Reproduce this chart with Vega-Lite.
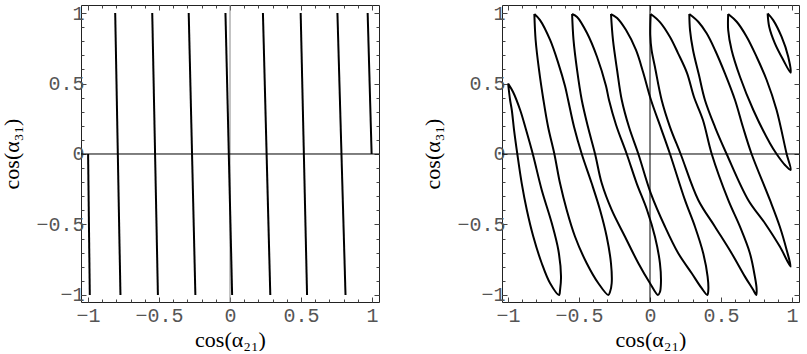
{
  "$schema": "https://vega.github.io/schema/vega-lite/v6.json",
  "padding": {"left": 0, "top": 2, "right": 0, "bottom": 0},
  "bounds": "flush",
  "spacing": 123,
  "config": {
    "view": {"stroke": "#222", "strokeWidth": 1},
    "axis": {"grid": false, "domain": false, "tickColor": "#444", "tickWidth": 1, "labelFont": "Liberation Mono", "labelFontSize": 20, "labelColor": "#555", "labelFlush": false, "labelOverlap": false, "titleFont": "Liberation Serif", "titleFontSize": 22, "titleFontWeight": "normal", "titleColor": "#000"}
  },
  "datasets": {
    "zero": [{"v": 0}],
    "left": [
      {"line": "a", "i": 0, "cx": -1.0, "cy": 0}, {"line": "a", "i": 1, "cx": -0.988, "cy": -1},
      {"line": "b", "i": 0, "cx": -0.809, "cy": 1}, {"line": "b", "i": 1, "cx": -0.772, "cy": -1},
      {"line": "c", "i": 0, "cx": -0.548, "cy": 1}, {"line": "c", "i": 1, "cx": -0.508, "cy": -1},
      {"line": "d", "i": 0, "cx": -0.291, "cy": 1}, {"line": "d", "i": 1, "cx": -0.244, "cy": -1},
      {"line": "e", "i": 0, "cx": -0.032, "cy": 1}, {"line": "e", "i": 1, "cx": 0.015, "cy": -1},
      {"line": "f", "i": 0, "cx": 0.232, "cy": 1}, {"line": "f", "i": 1, "cx": 0.284, "cy": -1},
      {"line": "g", "i": 0, "cx": 0.498, "cy": 1}, {"line": "g", "i": 1, "cx": 0.543, "cy": -1},
      {"line": "h", "i": 0, "cx": 0.757, "cy": 1}, {"line": "h", "i": 1, "cx": 0.814, "cy": -1},
      {"line": "i", "i": 0, "cx": 0.970, "cy": 1}, {"line": "i", "i": 1, "cx": 0.998, "cy": 0}
    ],
    "right": [
      {"loop": 1, "i": 0, "cx": -1.0, "cy": 0.5}, {"loop": 1, "i": 1, "cx": -0.986, "cy": 0.383}, {"loop": 1, "i": 2, "cx": -0.974, "cy": 0.312}, {"loop": 1, "i": 3, "cx": -0.958, "cy": 0.17}, {"loop": 1, "i": 4, "cx": -0.935, "cy": 0}, {"loop": 1, "i": 5, "cx": -0.904, "cy": -0.208}, {"loop": 1, "i": 6, "cx": -0.868, "cy": -0.397}, {"loop": 1, "i": 7, "cx": -0.822, "cy": -0.587}, {"loop": 1, "i": 8, "cx": -0.763, "cy": -0.775}, {"loop": 1, "i": 9, "cx": -0.704, "cy": -0.917}, {"loop": 1, "i": 10, "cx": -0.641, "cy": -1.0}, {"loop": 1, "i": 11, "cx": -0.634, "cy": -0.965}, {"loop": 1, "i": 12, "cx": -0.627, "cy": -0.87}, {"loop": 1, "i": 13, "cx": -0.646, "cy": -0.681}, {"loop": 1, "i": 14, "cx": -0.692, "cy": -0.491}, {"loop": 1, "i": 15, "cx": -0.763, "cy": -0.255}, {"loop": 1, "i": 16, "cx": -0.826, "cy": 0}, {"loop": 1, "i": 17, "cx": -0.873, "cy": 0.17}, {"loop": 1, "i": 18, "cx": -0.915, "cy": 0.312}, {"loop": 1, "i": 19, "cx": -0.965, "cy": 0.44}, {"loop": 1, "i": 20, "cx": -1.0, "cy": 0.5},
      {"loop": 2, "i": 0, "cx": -0.815, "cy": 0.993}, {"loop": 2, "i": 1, "cx": -0.806, "cy": 0.809}, {"loop": 2, "i": 2, "cx": -0.782, "cy": 0.596}, {"loop": 2, "i": 3, "cx": -0.751, "cy": 0.383}, {"loop": 2, "i": 4, "cx": -0.718, "cy": 0.191}, {"loop": 2, "i": 5, "cx": -0.674, "cy": 0}, {"loop": 2, "i": 6, "cx": -0.634, "cy": -0.208}, {"loop": 2, "i": 7, "cx": -0.587, "cy": -0.397}, {"loop": 2, "i": 8, "cx": -0.528, "cy": -0.587}, {"loop": 2, "i": 9, "cx": -0.446, "cy": -0.775}, {"loop": 2, "i": 10, "cx": -0.364, "cy": -0.917}, {"loop": 2, "i": 11, "cx": -0.294, "cy": -1.0}, {"loop": 2, "i": 12, "cx": -0.282, "cy": -0.979}, {"loop": 2, "i": 13, "cx": -0.27, "cy": -0.917}, {"loop": 2, "i": 14, "cx": -0.275, "cy": -0.775}, {"loop": 2, "i": 15, "cx": -0.305, "cy": -0.587}, {"loop": 2, "i": 16, "cx": -0.352, "cy": -0.397}, {"loop": 2, "i": 17, "cx": -0.411, "cy": -0.208}, {"loop": 2, "i": 18, "cx": -0.481, "cy": 0}, {"loop": 2, "i": 19, "cx": -0.535, "cy": 0.191}, {"loop": 2, "i": 20, "cx": -0.577, "cy": 0.383}, {"loop": 2, "i": 21, "cx": -0.599, "cy": 0.482}, {"loop": 2, "i": 22, "cx": -0.646, "cy": 0.643}, {"loop": 2, "i": 23, "cx": -0.704, "cy": 0.809}, {"loop": 2, "i": 24, "cx": -0.775, "cy": 0.95}, {"loop": 2, "i": 25, "cx": -0.815, "cy": 0.993},
      {"loop": 3, "i": 0, "cx": -0.549, "cy": 0.993}, {"loop": 3, "i": 1, "cx": -0.539, "cy": 0.809}, {"loop": 3, "i": 2, "cx": -0.514, "cy": 0.596}, {"loop": 3, "i": 3, "cx": -0.481, "cy": 0.383}, {"loop": 3, "i": 4, "cx": -0.437, "cy": 0.191}, {"loop": 3, "i": 5, "cx": -0.387, "cy": 0}, {"loop": 3, "i": 6, "cx": -0.34, "cy": -0.208}, {"loop": 3, "i": 7, "cx": -0.27, "cy": -0.397}, {"loop": 3, "i": 8, "cx": -0.176, "cy": -0.587}, {"loop": 3, "i": 9, "cx": -0.082, "cy": -0.775}, {"loop": 3, "i": 10, "cx": 0.0, "cy": -0.917}, {"loop": 3, "i": 11, "cx": 0.056, "cy": -1.0}, {"loop": 3, "i": 12, "cx": 0.07, "cy": -0.979}, {"loop": 3, "i": 13, "cx": 0.077, "cy": -0.917}, {"loop": 3, "i": 14, "cx": 0.07, "cy": -0.775}, {"loop": 3, "i": 15, "cx": 0.035, "cy": -0.587}, {"loop": 3, "i": 16, "cx": -0.021, "cy": -0.397}, {"loop": 3, "i": 17, "cx": -0.094, "cy": -0.208}, {"loop": 3, "i": 18, "cx": -0.164, "cy": 0}, {"loop": 3, "i": 19, "cx": -0.239, "cy": 0.206}, {"loop": 3, "i": 20, "cx": -0.289, "cy": 0.383}, {"loop": 3, "i": 21, "cx": -0.31, "cy": 0.482}, {"loop": 3, "i": 22, "cx": -0.373, "cy": 0.688}, {"loop": 3, "i": 23, "cx": -0.444, "cy": 0.858}, {"loop": 3, "i": 24, "cx": -0.514, "cy": 0.972}, {"loop": 3, "i": 25, "cx": -0.549, "cy": 0.993},
      {"loop": 4, "i": 0, "cx": -0.275, "cy": 0.993}, {"loop": 4, "i": 1, "cx": -0.261, "cy": 0.809}, {"loop": 4, "i": 2, "cx": -0.232, "cy": 0.596}, {"loop": 4, "i": 3, "cx": -0.199, "cy": 0.383}, {"loop": 4, "i": 4, "cx": -0.148, "cy": 0.191}, {"loop": 4, "i": 5, "cx": -0.082, "cy": 0}, {"loop": 4, "i": 6, "cx": 0.005, "cy": -0.277}, {"loop": 4, "i": 7, "cx": 0.106, "cy": -0.516}, {"loop": 4, "i": 8, "cx": 0.199, "cy": -0.704}, {"loop": 4, "i": 9, "cx": 0.294, "cy": -0.846}, {"loop": 4, "i": 10, "cx": 0.364, "cy": -0.952}, {"loop": 4, "i": 11, "cx": 0.404, "cy": -1.0}, {"loop": 4, "i": 12, "cx": 0.411, "cy": -0.965}, {"loop": 4, "i": 13, "cx": 0.406, "cy": -0.87}, {"loop": 4, "i": 14, "cx": 0.375, "cy": -0.704}, {"loop": 4, "i": 15, "cx": 0.317, "cy": -0.516}, {"loop": 4, "i": 16, "cx": 0.246, "cy": -0.326}, {"loop": 4, "i": 17, "cx": 0.141, "cy": 0}, {"loop": 4, "i": 18, "cx": 0.077, "cy": 0.184}, {"loop": 4, "i": 19, "cx": 0.007, "cy": 0.383}, {"loop": 4, "i": 20, "cx": -0.049, "cy": 0.582}, {"loop": 4, "i": 21, "cx": -0.099, "cy": 0.738}, {"loop": 4, "i": 22, "cx": -0.169, "cy": 0.879}, {"loop": 4, "i": 23, "cx": -0.232, "cy": 0.965}, {"loop": 4, "i": 24, "cx": -0.275, "cy": 0.993},
      {"loop": 5, "i": 0, "cx": 0.005, "cy": 0.993}, {"loop": 5, "i": 1, "cx": 0.002, "cy": 0.844}, {"loop": 5, "i": 2, "cx": 0.011, "cy": 0.738}, {"loop": 5, "i": 3, "cx": 0.035, "cy": 0.617}, {"loop": 5, "i": 4, "cx": 0.082, "cy": 0.383}, {"loop": 5, "i": 5, "cx": 0.141, "cy": 0.191}, {"loop": 5, "i": 6, "cx": 0.216, "cy": 0}, {"loop": 5, "i": 7, "cx": 0.34, "cy": -0.326}, {"loop": 5, "i": 8, "cx": 0.458, "cy": -0.516}, {"loop": 5, "i": 9, "cx": 0.575, "cy": -0.704}, {"loop": 5, "i": 10, "cx": 0.669, "cy": -0.87}, {"loop": 5, "i": 11, "cx": 0.728, "cy": -0.965}, {"loop": 5, "i": 12, "cx": 0.749, "cy": -1.0}, {"loop": 5, "i": 13, "cx": 0.751, "cy": -0.952}, {"loop": 5, "i": 14, "cx": 0.739, "cy": -0.87}, {"loop": 5, "i": 15, "cx": 0.704, "cy": -0.704}, {"loop": 5, "i": 16, "cx": 0.634, "cy": -0.516}, {"loop": 5, "i": 17, "cx": 0.551, "cy": -0.326}, {"loop": 5, "i": 18, "cx": 0.435, "cy": 0}, {"loop": 5, "i": 19, "cx": 0.373, "cy": 0.241}, {"loop": 5, "i": 20, "cx": 0.31, "cy": 0.404}, {"loop": 5, "i": 21, "cx": 0.261, "cy": 0.574}, {"loop": 5, "i": 22, "cx": 0.197, "cy": 0.716}, {"loop": 5, "i": 23, "cx": 0.141, "cy": 0.83}, {"loop": 5, "i": 24, "cx": 0.07, "cy": 0.936}, {"loop": 5, "i": 25, "cx": 0.005, "cy": 0.993},
      {"loop": 6, "i": 0, "cx": 0.277, "cy": 0.993}, {"loop": 6, "i": 1, "cx": 0.282, "cy": 0.879}, {"loop": 6, "i": 2, "cx": 0.303, "cy": 0.738}, {"loop": 6, "i": 3, "cx": 0.345, "cy": 0.56}, {"loop": 6, "i": 4, "cx": 0.387, "cy": 0.383}, {"loop": 6, "i": 5, "cx": 0.458, "cy": 0.191}, {"loop": 6, "i": 6, "cx": 0.54, "cy": 0}, {"loop": 6, "i": 7, "cx": 0.692, "cy": -0.326}, {"loop": 6, "i": 8, "cx": 0.81, "cy": -0.491}, {"loop": 6, "i": 9, "cx": 0.915, "cy": -0.657}, {"loop": 6, "i": 10, "cx": 0.991, "cy": -0.799}, {"loop": 6, "i": 11, "cx": 0.963, "cy": -0.681}, {"loop": 6, "i": 12, "cx": 0.915, "cy": -0.516}, {"loop": 6, "i": 13, "cx": 0.845, "cy": -0.326}, {"loop": 6, "i": 14, "cx": 0.716, "cy": 0}, {"loop": 6, "i": 15, "cx": 0.655, "cy": 0.191}, {"loop": 6, "i": 16, "cx": 0.599, "cy": 0.383}, {"loop": 6, "i": 17, "cx": 0.528, "cy": 0.572}, {"loop": 6, "i": 18, "cx": 0.458, "cy": 0.738}, {"loop": 6, "i": 19, "cx": 0.399, "cy": 0.856}, {"loop": 6, "i": 20, "cx": 0.34, "cy": 0.938}, {"loop": 6, "i": 21, "cx": 0.277, "cy": 0.993},
      {"loop": 7, "i": 0, "cx": 0.551, "cy": 0.993}, {"loop": 7, "i": 1, "cx": 0.551, "cy": 0.879}, {"loop": 7, "i": 2, "cx": 0.575, "cy": 0.738}, {"loop": 7, "i": 3, "cx": 0.634, "cy": 0.548}, {"loop": 7, "i": 4, "cx": 0.728, "cy": 0.312}, {"loop": 7, "i": 5, "cx": 0.845, "cy": 0.076}, {"loop": 7, "i": 6, "cx": 0.892, "cy": 0}, {"loop": 7, "i": 7, "cx": 0.951, "cy": -0.078}, {"loop": 7, "i": 8, "cx": 0.991, "cy": -0.113}, {"loop": 7, "i": 9, "cx": 0.963, "cy": 0}, {"loop": 7, "i": 10, "cx": 0.892, "cy": 0.312}, {"loop": 7, "i": 11, "cx": 0.822, "cy": 0.525}, {"loop": 7, "i": 12, "cx": 0.751, "cy": 0.69}, {"loop": 7, "i": 13, "cx": 0.681, "cy": 0.832}, {"loop": 7, "i": 14, "cx": 0.611, "cy": 0.938}, {"loop": 7, "i": 15, "cx": 0.551, "cy": 0.993},
      {"loop": 8, "i": 0, "cx": 0.829, "cy": 0.998}, {"loop": 8, "i": 1, "cx": 0.84, "cy": 0.903}, {"loop": 8, "i": 2, "cx": 0.88, "cy": 0.785}, {"loop": 8, "i": 3, "cx": 0.939, "cy": 0.667}, {"loop": 8, "i": 4, "cx": 0.991, "cy": 0.577}, {"loop": 8, "i": 5, "cx": 0.974, "cy": 0.69}, {"loop": 8, "i": 6, "cx": 0.927, "cy": 0.832}, {"loop": 8, "i": 7, "cx": 0.868, "cy": 0.95}, {"loop": 8, "i": 8, "cx": 0.829, "cy": 0.998}
    ]
  },
  "hconcat": [
    {
      "width": 298, "height": 297,
      "resolve": {"axis": {"x": "independent", "y": "independent"}},
      "layer": [
        {"data": {"name": "zero"}, "mark": {"type": "rule", "stroke": "#888", "strokeWidth": 1},
         "encoding": {
           "x": {"field": "v", "type": "quantitative", "scale": {"domain": [-1.05, 1.05], "nice": false, "zero": false},
             "axis": {"orient": "top", "values": [-1, -0.5, 0, 0.5, 1], "tickSize": -5, "labels": false, "title": null}},
           "y": {"datum": -1.05, "type": "quantitative", "scale": {"domain": [-1.05, 1.057], "nice": false, "zero": false},
             "axis": {"orient": "right", "values": [-1, -0.5, 0, 0.5, 1], "tickSize": -5, "labels": false, "title": null}},
           "y2": {"datum": 1.057}}},
        {"data": {"name": "zero"}, "mark": {"type": "rule", "stroke": "#000", "strokeWidth": 1},
         "encoding": {
           "y": {"field": "v", "type": "quantitative", "scale": {"domain": [-1.05, 1.057], "nice": false, "zero": false},
             "axis": {"orient": "left", "values": [-1, -0.9, -0.8, -0.7, -0.6, -0.5, -0.4, -0.3, -0.2, -0.1, 0, 0.1, 0.2, 0.3, 0.4, 0.5, 0.6, 0.7, 0.8, 0.9, 1], "tickSize": -3, "labels": false, "title": null}},
           "x": {"datum": -1.05, "type": "quantitative", "scale": {"domain": [-1.05, 1.05], "nice": false, "zero": false},
             "axis": {"orient": "bottom", "values": [-1, -0.9, -0.8, -0.7, -0.6, -0.5, -0.4, -0.3, -0.2, -0.1, 0, 0.1, 0.2, 0.3, 0.4, 0.5, 0.6, 0.7, 0.8, 0.9, 1], "tickSize": -3, "labels": false, "title": null}},
           "x2": {"datum": 1.05}}},
        {"data": {"name": "zero"}, "mark": {"type": "rule", "strokeOpacity": 0},
         "encoding": {
           "x": {"field": "v", "type": "quantitative", "scale": {"domain": [-1.05, 1.05], "nice": false, "zero": false},
             "axis": {"orient": "top", "values": [-1, -0.9, -0.8, -0.7, -0.6, -0.5, -0.4, -0.3, -0.2, -0.1, 0, 0.1, 0.2, 0.3, 0.4, 0.5, 0.6, 0.7, 0.8, 0.9, 1], "tickSize": -3, "labels": false, "title": null}},
           "y": {"datum": -1.05, "type": "quantitative", "scale": {"domain": [-1.05, 1.057], "nice": false, "zero": false},
             "axis": {"orient": "right", "values": [-1, -0.9, -0.8, -0.7, -0.6, -0.5, -0.4, -0.3, -0.2, -0.1, 0, 0.1, 0.2, 0.3, 0.4, 0.5, 0.6, 0.7, 0.8, 0.9, 1], "tickSize": -3, "labels": false, "title": null}},
           "y2": {"datum": 1.057}}},
        {"data": {"name": "left"}, "mark": {"type": "line", "stroke": "#000", "strokeWidth": 2, "strokeJoin": "round"},
         "encoding": {
           "x": {"field": "cx", "type": "quantitative", "scale": {"domain": [-1.05, 1.05], "nice": false, "zero": false},
             "axis": {"orient": "bottom", "values": [-1, -0.5, 0, 0.5, 1], "format": "~g", "tickSize": -5, "labelPadding": 8, "title": "cos(α₂₁)", "titlePadding": 4}},
           "y": {"field": "cy", "type": "quantitative", "scale": {"domain": [-1.05, 1.057], "nice": false, "zero": false},
             "axis": {"orient": "left", "values": [-1, -0.5, 0, 0.5, 1], "format": "~g", "tickSize": -5, "labelPadding": 2, "title": "cos(α₃₁)", "titlePadding": 12}},
           "detail": {"field": "line", "type": "nominal"},
           "order": {"field": "i", "type": "quantitative"}
         }}
      ]
    },
    {
      "width": 297, "height": 297,
      "resolve": {"axis": {"x": "independent", "y": "independent"}},
      "layer": [
        {"data": {"name": "zero"}, "mark": {"type": "rule", "stroke": "#000", "strokeWidth": 1},
         "encoding": {
           "x": {"field": "v", "type": "quantitative", "scale": {"domain": [-1.043, 1.05], "nice": false, "zero": false},
             "axis": {"orient": "top", "values": [-1, -0.5, 0, 0.5, 1], "tickSize": -5, "labels": false, "title": null}},
           "y": {"datum": -1.05, "type": "quantitative", "scale": {"domain": [-1.05, 1.057], "nice": false, "zero": false},
             "axis": {"orient": "right", "values": [-1, -0.5, 0, 0.5, 1], "tickSize": -5, "labels": false, "title": null}},
           "y2": {"datum": 1.057}}},
        {"data": {"name": "zero"}, "mark": {"type": "rule", "stroke": "#000", "strokeWidth": 1},
         "encoding": {
           "y": {"field": "v", "type": "quantitative", "scale": {"domain": [-1.05, 1.057], "nice": false, "zero": false},
             "axis": {"orient": "left", "values": [-1, -0.9, -0.8, -0.7, -0.6, -0.5, -0.4, -0.3, -0.2, -0.1, 0, 0.1, 0.2, 0.3, 0.4, 0.5, 0.6, 0.7, 0.8, 0.9, 1], "tickSize": -3, "labels": false, "title": null}},
           "x": {"datum": -1.043, "type": "quantitative", "scale": {"domain": [-1.043, 1.05], "nice": false, "zero": false},
             "axis": {"orient": "bottom", "values": [-1, -0.9, -0.8, -0.7, -0.6, -0.5, -0.4, -0.3, -0.2, -0.1, 0, 0.1, 0.2, 0.3, 0.4, 0.5, 0.6, 0.7, 0.8, 0.9, 1], "tickSize": -3, "labels": false, "title": null}},
           "x2": {"datum": 1.05}}},
        {"data": {"name": "zero"}, "mark": {"type": "rule", "strokeOpacity": 0},
         "encoding": {
           "x": {"field": "v", "type": "quantitative", "scale": {"domain": [-1.043, 1.05], "nice": false, "zero": false},
             "axis": {"orient": "top", "values": [-1, -0.9, -0.8, -0.7, -0.6, -0.5, -0.4, -0.3, -0.2, -0.1, 0, 0.1, 0.2, 0.3, 0.4, 0.5, 0.6, 0.7, 0.8, 0.9, 1], "tickSize": -3, "labels": false, "title": null}},
           "y": {"datum": -1.05, "type": "quantitative", "scale": {"domain": [-1.05, 1.057], "nice": false, "zero": false},
             "axis": {"orient": "right", "values": [-1, -0.9, -0.8, -0.7, -0.6, -0.5, -0.4, -0.3, -0.2, -0.1, 0, 0.1, 0.2, 0.3, 0.4, 0.5, 0.6, 0.7, 0.8, 0.9, 1], "tickSize": -3, "labels": false, "title": null}},
           "y2": {"datum": 1.057}}},
        {"data": {"name": "right"}, "mark": {"type": "line", "stroke": "#000", "strokeWidth": 2, "strokeJoin": "round", "interpolate": "catmull-rom"},
         "encoding": {
           "x": {"field": "cx", "type": "quantitative", "scale": {"domain": [-1.043, 1.05], "nice": false, "zero": false},
             "axis": {"orient": "bottom", "values": [-1, -0.5, 0, 0.5, 1], "format": "~g", "tickSize": -5, "labelPadding": 8, "title": "cos(α₂₁)", "titlePadding": 4}},
           "y": {"field": "cy", "type": "quantitative", "scale": {"domain": [-1.05, 1.057], "nice": false, "zero": false},
             "axis": {"orient": "left", "values": [-1, -0.5, 0, 0.5, 1], "format": "~g", "tickSize": -5, "labelPadding": 2, "title": "cos(α₃₁)", "titlePadding": 12}},
           "detail": {"field": "loop", "type": "nominal"},
           "order": {"field": "i", "type": "quantitative"}
         }}
      ]
    }
  ]
}
